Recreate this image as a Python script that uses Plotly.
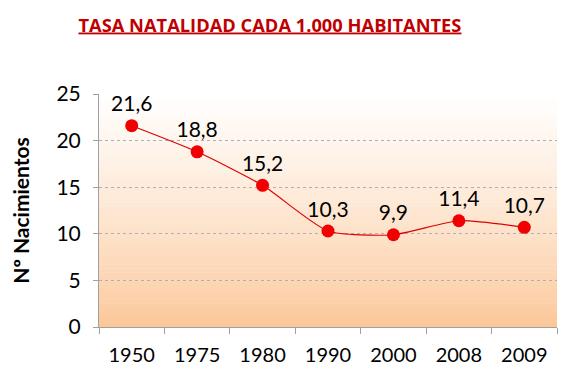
import plotly.graph_objects as go

years = ["1950", "1975", "1980", "1990", "2000", "2008", "2009"]
rates = [21.6, 18.8, 15.2, 10.3, 9.9, 11.4, 10.7]
labels = ["21,6", "18,8", "15,2", "10,3", "9,9", "11,4", "10,7"]
title_text = "TASA NATALIDAD CADA 1.000 HABITANTES"
y_title = "Nº Nacimientos"

FONT = "Lato"

fig = go.Figure()
fig.add_trace(go.Scatter(
    x=years, y=rates, mode="lines+markers+text",
    text=labels, textposition="top center",
    textfont=dict(family=FONT, size=21, color="black"),
    line=dict(color="#E00000", width=1.2, shape="spline", smoothing=0.6),
    marker=dict(color="#F00000", size=13),
    cliponaxis=False, showlegend=False,
))

# vertical gradient background (white at top -> peach at bottom)
top = (255, 255, 255)
bot = (251, 198, 150)
n = 60
shapes = []
for i in range(n):
    t = ((i + 0.5) / n) ** 0.8  # 0 bottom -> 1 top
    c = tuple(round(bot[k] + (top[k] - bot[k]) * t) for k in range(3))
    shapes.append(dict(type="rect", xref="paper", yref="paper",
                       x0=0, x1=1, y0=i / n, y1=(i + 1) / n + 0.002,
                       fillcolor="rgb(%d,%d,%d)" % c, line=dict(width=0),
                       layer="below"))

fig.update_layout(
    width=567, height=372,
    margin=dict(l=91, r=18, t=86, b=53, autoexpand=False),
    paper_bgcolor="white", plot_bgcolor="white",
    shapes=shapes,
    title=dict(text="<u>" + title_text + "</u>", x=0.462, xanchor="center",
               y=0.954, yanchor="middle",
               font=dict(family="Open Sans", size=18.3, color="#C00000",
                         weight="bold")),
    xaxis=dict(type="category", tickson="boundaries", ticks="outside",
               ticklen=6, tickcolor="#A0A0A0", showline=True,
               linecolor="#A0A0A0", linewidth=1, showgrid=False,
               automargin=False,
               tickfont=dict(family=FONT, size=20, color="black"),
               ticklabelstandoff=10, range=[-0.5, 6.5]),
    yaxis=dict(range=[0, 25], dtick=5, ticks="outside", ticklen=5,
               tickcolor="#A0A0A0", showline=True, linecolor="#A0A0A0",
               linewidth=1, showgrid=True, gridcolor="#B0B0B0",
               griddash="dot", gridwidth=1, zeroline=False,
               automargin=False, ticklabelstandoff=8,
               tickfont=dict(family=FONT, size=21, color="black"),
               title=dict(text=y_title, standoff=21,
                          font=dict(family=FONT, size=21, color="black",
                                    weight="bold"))),
)

fig.write_html("out.html")
